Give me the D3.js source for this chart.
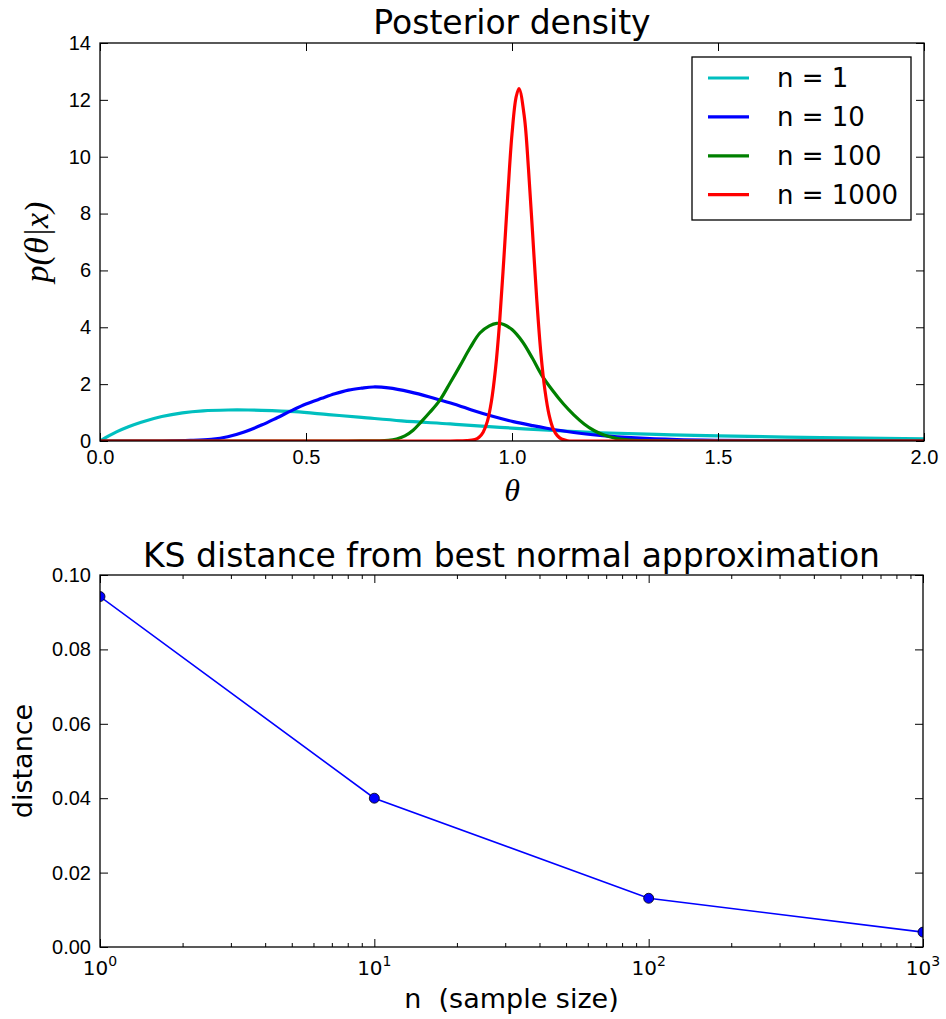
<!DOCTYPE html>
<html>
<head>
<meta charset="utf-8">
<script src="https://cdnjs.cloudflare.com/ajax/libs/d3/7.8.5/d3.min.js"></script>
<style>
  body { margin: 0; background: #fff; }
  svg { display: block; font-family: "DejaVu Sans", sans-serif; }
  .tick line { stroke: #000; stroke-width: 1; }
  .tick text { font-size: 20px; fill: #000; }
  .domain { display: none; }
</style>
</head>
<body>
<svg id="chart" width="946" height="1019"></svg>
<script>
// posterior density curves as [theta, p]
var postN1 = [[0,0],[0.02,0.17],[0.04,0.32],[0.069,0.5],[0.10,0.66],[0.15,0.86],[0.20,0.99],[0.25,1.06],
  [0.311,1.09],[0.36,1.09],[0.392,1.08],[0.473,1.03],[0.554,0.93],[0.635,0.83],[0.732,0.71],[0.85,0.6],
  [0.971,0.48],[1.1,0.37],[1.214,0.29],[1.35,0.23],[1.5,0.18],[1.75,0.12],[2.0,0.08]];
var postN10 = [[0,0],[0.15,0],[0.22,0.02],[0.27,0.06],[0.31,0.15],[0.35,0.32],[0.392,0.56],[0.43,0.82],
  [0.465,1.07],[0.50,1.3],[0.538,1.5],[0.57,1.66],[0.603,1.79],[0.635,1.86],[0.663,1.9],[0.70,1.87],
  [0.752,1.73],[0.80,1.55],[0.825,1.44],[0.87,1.25],[0.9,1.1],[0.955,0.86],[1.003,0.68],[1.05,0.54],
  [1.084,0.45],[1.15,0.3],[1.214,0.2],[1.3,0.11],[1.4,0.05],[1.5,0.025],[1.7,0.006],[2.0,0]];
var postN100 = [[0,0],[0.60,0],[0.70,0.02],[0.72,0.07],[0.74,0.18],[0.76,0.38],[0.78,0.68],[0.80,1.0],
  [0.825,1.44],[0.85,2.05],[0.874,2.65],[0.898,3.27],[0.922,3.8],[0.945,4.05],[0.963,4.14],[0.98,4.1],
  [1.00,3.92],[1.025,3.5],[1.05,2.9],[1.072,2.32],[1.10,1.75],[1.125,1.3],[1.15,0.92],[1.175,0.6],
  [1.20,0.36],[1.225,0.2],[1.25,0.1],[1.28,0.04],[1.32,0.01],[1.40,0],[2.0,0]];
var postN1000 = [[0,0],[0.85,0],[0.89,0.01],[0.91,0.05],[0.92,0.13],[0.93,0.31],[0.94,0.68],[0.95,1.39],
  [0.96,2.54],[0.97,4.2],[0.98,6.36],[0.99,8.7],[1.00,10.8],[1.01,12.1],[1.017,12.4],[1.03,11.4],
  [1.04,9.57],[1.05,7.3],[1.06,5.0],[1.07,3.1],[1.08,1.78],[1.09,0.92],[1.10,0.43],[1.11,0.19],
  [1.12,0.07],[1.135,0.01],[1.16,0],[2.0,0]];

var seriesNames = ["n = 1", "n = 10", "n = 100", "n = 1000"];
var seriesColors = ["#00bfbf", "#0000ff", "#008000", "#ff0000"];
var seriesData = [postN1, postN10, postN100, postN1000];

var thetaTicks = [0, 0.5, 1.0, 1.5, 2.0];
var densTicks = [0, 2, 4, 6, 8, 10, 12, 14];

// KS distance vs sample size
var sampleSizes = [1, 10, 100, 1000];
var ksDistance = [0.0942, 0.0400, 0.0131, 0.0040];
var ksTicks = [0, 0.02, 0.04, 0.06, 0.08, 0.10];

var svg = d3.select("#chart");

//---- top panel ----
var top1 = {left: 100, right: 924, top: 43, bottom: 441};

var x1 = d3.scaleLinear().domain([0, 2]).range([top1.left, top1.right]);
var y1 = d3.scaleLinear().domain([0, 14]).range([top1.bottom, top1.top]);

svg.append("clipPath").attr("id", "clip1")
  .append("rect")
  .attr("x", top1.left).attr("y", top1.top)
  .attr("width", top1.right - top1.left).attr("height", top1.bottom - top1.top);

var line1 = d3.line()
  .x(function(d) { return x1(d[0]); })
  .y(function(d) { return y1(d[1]); })
  .curve(d3.curveCatmullRom.alpha(0.5));

var gCurves = svg.append("g").attr("clip-path", "url(#clip1)");
seriesData.forEach(function(s, i) {
  gCurves.append("path")
    .attr("d", line1(s))
    .attr("fill", "none")
    .attr("stroke", seriesColors[i])
    .attr("stroke-width", 3.2)
    .attr("stroke-linejoin", "round");
});

svg.append("g")
  .attr("transform", "translate(0," + top1.bottom + ")")
  .call(d3.axisBottom(x1).tickValues(thetaTicks).tickSize(-8).tickPadding(9).tickFormat(d3.format(".1f")));
svg.append("g")
  .attr("transform", "translate(0," + top1.top + ")")
  .call(d3.axisTop(x1).tickValues(thetaTicks).tickSize(-8).tickFormat(""));
svg.append("g")
  .attr("transform", "translate(" + top1.left + ",0)")
  .call(d3.axisLeft(y1).tickValues(densTicks).tickSize(-8).tickPadding(9).tickFormat(d3.format("d")));
svg.append("g")
  .attr("transform", "translate(" + top1.right + ",0)")
  .call(d3.axisRight(y1).tickValues(densTicks).tickSize(-8).tickFormat(""));

svg.append("rect")
  .attr("x", top1.left).attr("y", top1.top)
  .attr("width", top1.right - top1.left).attr("height", top1.bottom - top1.top)
  .attr("fill", "none").attr("stroke", "#000").attr("stroke-width", 1.3);

svg.append("text")
  .attr("x", (top1.left + top1.right) / 2).attr("y", 34)
  .attr("text-anchor", "middle").attr("font-size", 33)
  .text("Posterior density");

svg.append("text")
  .attr("x", (top1.left + top1.right) / 2).attr("y", 501)
  .attr("text-anchor", "middle").attr("font-size", 32)
  .attr("font-family", "Liberation Serif, serif").attr("font-style", "italic")
  .text("θ");

svg.append("text")
  .attr("transform", "translate(48," + (top1.top + top1.bottom) / 2 + ") rotate(-90)")
  .attr("text-anchor", "middle").attr("font-size", 34)
  .attr("font-family", "Liberation Serif, serif").attr("font-style", "italic")
  .text("p(θ|x)");

// legend
var legend = svg.append("g");
legend.append("rect")
  .attr("x", 692).attr("y", 57).attr("width", 219).attr("height", 163)
  .attr("fill", "#fff").attr("stroke", "#000").attr("stroke-width", 1.3);
seriesNames.forEach(function(name, i) {
  var ly = 78 + i * 38.9;
  legend.append("line")
    .attr("x1", 708).attr("x2", 749).attr("y1", ly).attr("y2", ly)
    .attr("stroke", seriesColors[i]).attr("stroke-width", 3.2);
  legend.append("text")
    .attr("x", 777).attr("y", ly).attr("dy", "0.36em")
    .attr("font-size", 26)
    .text(name);
});

//---- bottom panel ----
var bot = {left: 100, right: 923, top: 575, bottom: 947};

var x2 = d3.scaleLog().domain([1, 1000]).range([bot.left, bot.right]);
var y2 = d3.scaleLinear().domain([0, 0.1]).range([bot.bottom, bot.top]);

svg.append("clipPath").attr("id", "clip2")
  .append("rect")
  .attr("x", bot.left).attr("y", bot.top)
  .attr("width", bot.right - bot.left).attr("height", bot.bottom - bot.top);

var minorTicks = [];
[1, 10, 100].forEach(function(dec) {
  for (var k = 2; k <= 9; k++) minorTicks.push(k * dec);
});

svg.append("g")
  .attr("transform", "translate(0," + bot.bottom + ")")
  .call(d3.axisBottom(x2).tickValues(sampleSizes).tickSize(-8).tickFormat(""));
svg.append("g")
  .attr("transform", "translate(0," + bot.bottom + ")")
  .call(d3.axisBottom(x2).tickValues(minorTicks).tickSize(-4).tickFormat(""));
svg.append("g")
  .attr("transform", "translate(0," + bot.top + ")")
  .call(d3.axisTop(x2).tickValues(sampleSizes).tickSize(-8).tickFormat(""));
svg.append("g")
  .attr("transform", "translate(0," + bot.top + ")")
  .call(d3.axisTop(x2).tickValues(minorTicks).tickSize(-4).tickFormat(""));
svg.append("g")
  .attr("transform", "translate(" + bot.left + ",0)")
  .call(d3.axisLeft(y2).tickValues(ksTicks).tickSize(-8).tickPadding(9).tickFormat(d3.format(".2f")));
svg.append("g")
  .attr("transform", "translate(" + bot.right + ",0)")
  .call(d3.axisRight(y2).tickValues(ksTicks).tickSize(-8).tickFormat(""));

// power-of-ten labels
sampleSizes.forEach(function(n) {
  var t = svg.append("text")
    .attr("x", x2(n)).attr("y", 975)
    .attr("text-anchor", "middle").attr("font-size", 20);
  t.append("tspan").text("10");
  t.append("tspan").attr("dy", -9).attr("font-size", 14).text(Math.round(Math.log10(n)));
});

var gKs = svg.append("g").attr("clip-path", "url(#clip2)");
var line2 = d3.line()
  .x(function(d, i) { return x2(sampleSizes[i]); })
  .y(function(d) { return y2(d); });
gKs.append("path")
  .attr("d", line2(ksDistance))
  .attr("fill", "none").attr("stroke", "#0000ff").attr("stroke-width", 1.6);
gKs.selectAll("circle")
  .data(ksDistance)
  .enter().append("circle")
  .attr("cx", function(d, i) { return x2(sampleSizes[i]); })
  .attr("cy", function(d) { return y2(d); })
  .attr("r", 5)
  .attr("fill", "#0000ff").attr("stroke", "#000").attr("stroke-width", 0.8);

svg.append("rect")
  .attr("x", bot.left).attr("y", bot.top)
  .attr("width", bot.right - bot.left).attr("height", bot.bottom - bot.top)
  .attr("fill", "none").attr("stroke", "#000").attr("stroke-width", 1.3);

svg.append("text")
  .attr("x", (bot.left + bot.right) / 2).attr("y", 567)
  .attr("text-anchor", "middle").attr("font-size", 33)
  .text("KS distance from best normal approximation");

svg.append("text")
  .attr("x", (bot.left + bot.right) / 2).attr("y", 1008)
  .attr("text-anchor", "middle").attr("font-size", 27)
  .attr("xml:space", "preserve")
  .text("n  (sample size)");

svg.append("text")
  .attr("transform", "translate(32," + (bot.top + bot.bottom) / 2 + ") rotate(-90)")
  .attr("text-anchor", "middle").attr("font-size", 27)
  .text("distance");
</script>
</body>
</html>
